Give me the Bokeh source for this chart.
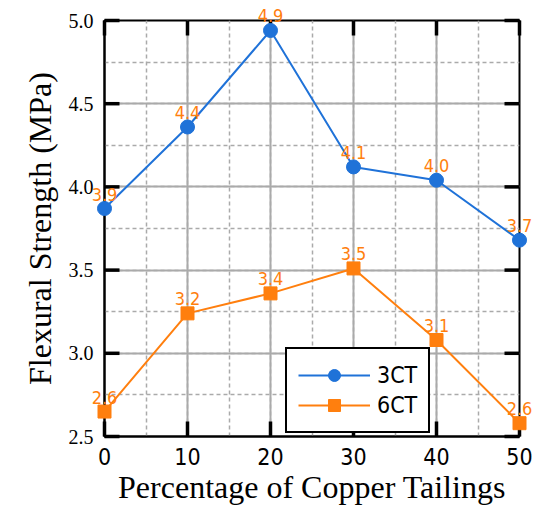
from math import pi
from bokeh.plotting import figure
from bokeh.models import (ColumnDataSource, LinearAxis, SingleIntervalTicker,
                          Legend, LegendItem, Range1d, Grid, PrintfTickFormatter)
from bokeh.core.properties import value
from bokeh.embed import file_html
from bokeh.resources import INLINE

# Flexural strength vs. copper tailings content
copper_pct = [0, 10, 20, 30, 40, 50]
strength_3ct = [3.87, 4.36, 4.94, 4.12, 4.04, 3.68]
strength_6ct = [2.65, 3.24, 3.36, 3.51, 3.08, 2.58]

x_ticks = [0, 10, 20, 30, 40, 50]
y_ticks = [2.5, 3.0, 3.5, 4.0, 4.5, 5.0]

BLUE = "#1f72d8"
ORANGE = "#ff7f0e"
SANS = "DejaVu Sans Condensed"
SERIF = "Liberation Serif"

p = figure(width=541, height=515, output_backend="svg", toolbar_location=None,
           x_range=Range1d(0, 50), y_range=Range1d(2.5, 5.0),
           min_border_left=104, min_border_right=22,
           min_border_top=20, min_border_bottom=79)
p.xaxis.visible = False
p.yaxis.visible = False
p.xgrid.visible = False
p.ygrid.visible = False
p.background_fill_color = "white"
p.border_fill_color = "white"
p.outline_line_color = "black"
p.outline_line_width = 2

xt = SingleIntervalTicker(interval=10, num_minor_ticks=2)
yt = SingleIntervalTicker(interval=0.5, num_minor_ticks=2)


def make_axis(ticker):
    ax = LinearAxis(ticker=ticker)
    ax.axis_line_color = "black"
    ax.axis_line_width = 2
    ax.major_tick_line_color = None
    ax.minor_tick_line_color = None
    ax.major_tick_out = 0
    ax.minor_tick_out = 0
    ax.major_label_text_color = "black"
    ax.axis_label_text_color = "black"
    return ax


xb = make_axis(xt)
xb.axis_label = "Percentage of Copper Tailings"
xb.axis_label_text_font = SERIF
xb.axis_label_text_font_style = "normal"
xb.axis_label_text_font_size = "32px"
xb.axis_label_standoff = 1
xb.major_label_text_font = SANS
xb.major_label_text_font_size = "23px"
xb.major_label_standoff = 11
p.add_layout(xb, "below")

yl = make_axis(yt)
yl.formatter = PrintfTickFormatter(format="%.1f")
yl.axis_label = "Flexural Strength (MPa)"
yl.axis_label_text_font = SERIF
yl.axis_label_text_font_style = "normal"
yl.axis_label_text_font_size = "32px"
yl.axis_label_standoff = 8
yl.major_label_text_font = SERIF
yl.major_label_text_font_size = "20px"
yl.major_label_standoff = 11
p.add_layout(yl, "left")

# grids: solid major lines, dashed minor lines, kept beneath everything else
for dim, tk in ((0, xt), (1, yt)):
    g = Grid(dimension=dim, ticker=tk, level="image")
    g.grid_line_color = "#aaaaaa"
    g.grid_line_width = 2
    g.minor_grid_line_color = "#aaaaaa"
    g.minor_grid_line_width = 1.5
    g.minor_grid_line_dash = "4 3"
    p.add_layout(g, "center")

src3 = ColumnDataSource(dict(x=copper_pct, y=strength_3ct,
                             lbl=[f"{v:.1f}" for v in strength_3ct]))
src6 = ColumnDataSource(dict(x=copper_pct, y=strength_6ct,
                             lbl=[f"{v:.1f}" for v in strength_6ct]))

# inward tick marks on all four sides, 15 px long
nx, ny = len(x_ticks), len(y_ticks)
ticks = ColumnDataSource(dict(
    x=x_ticks + x_ticks + [x_ticks[0]] * ny + [x_ticks[-1]] * ny,
    y=[y_ticks[0]] * nx + [y_ticks[-1]] * nx + y_ticks + y_ticks,
    a=[pi / 2] * nx + [-pi / 2] * nx + [0.0] * ny + [pi] * ny,
))
p.ray("x", "y", source=ticks, length=15, length_units="screen", angle="a",
      line_color="black", line_width=3.5, level="overlay")

l3 = p.line("x", "y", source=src3, color=BLUE, line_width=2, level="overlay")
c3 = p.scatter("x", "y", source=src3, marker="circle", size=14, color=BLUE,
               level="overlay")
l6 = p.line("x", "y", source=src6, color=ORANGE, line_width=2, level="overlay")
s6 = p.scatter("x", "y", source=src6, marker="square", size=13, color=ORANGE,
               level="overlay")

for src in (src3, src6):
    p.text("x", "y", text="lbl", source=src, text_color=ORANGE,
           text_font=value(SANS), text_font_size="18px",
           text_align="center", text_baseline="bottom", y_offset=-8,
           level="overlay")

legend = Legend(items=[LegendItem(label="3CT", renderers=[l3, c3]),
                       LegendItem(label="6CT", renderers=[l6, s6])],
                location=(181, 3))
legend.border_line_color = "black"
legend.border_line_alpha = 1
legend.border_line_width = 2
legend.label_text_font = SANS
legend.label_text_font_size = "23px"
legend.label_text_color = "black"
legend.glyph_width = 72
legend.glyph_height = 30
legend.label_height = 30
legend.spacing = 0
legend.padding = 11
legend.margin = 0
legend.label_standoff = 7
legend.background_fill_alpha = 1
p.add_layout(legend, "center")

open("out.html", "w").write(file_html(p, INLINE))
